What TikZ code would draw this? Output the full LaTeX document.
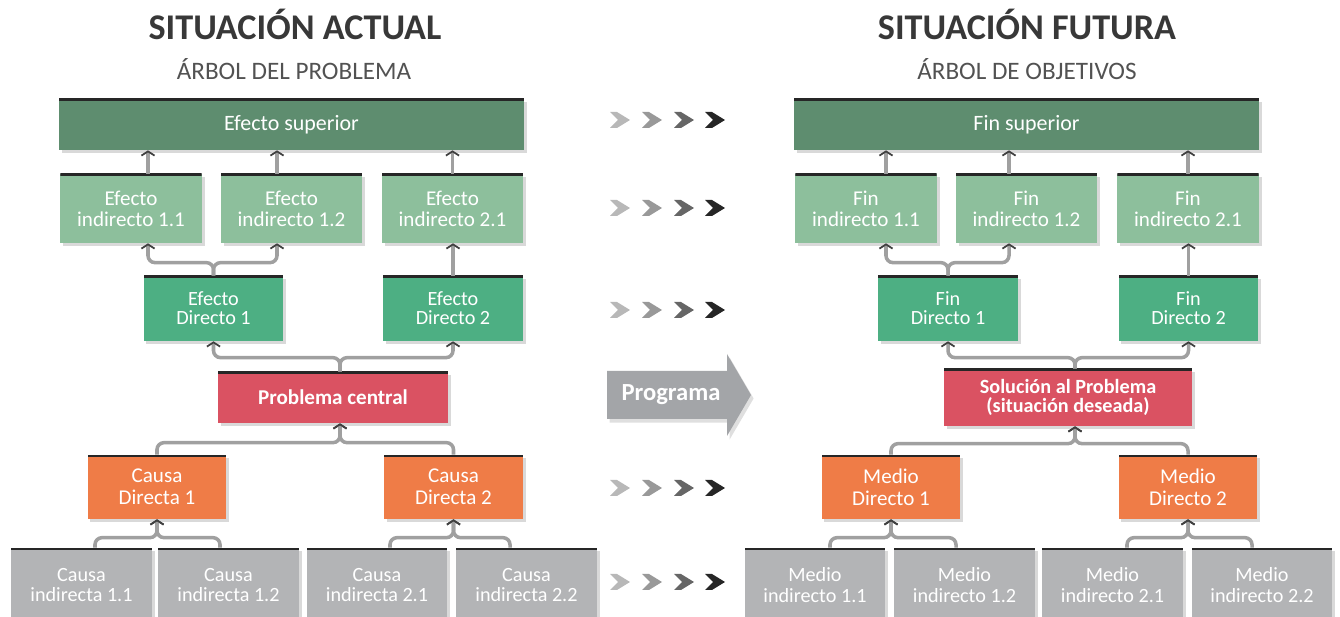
\documentclass[tikz,border=0pt]{standalone}
\usepackage{fontspec}
\setmainfont{Carlito}
\usetikzlibrary{calc,shadows,backgrounds,arrows.meta}
\definecolor{supgreen}{HTML}{5E8D6F}
\definecolor{indgreen}{HTML}{8DBF9C}
\definecolor{dirgreen}{HTML}{4DAF83}
\definecolor{corered}{HTML}{DA5262}
\definecolor{causeorange}{HTML}{EF7C47}
\definecolor{rootgray}{HTML}{B3B4B6}
\definecolor{proggray}{HTML}{A3A5A8}
\definecolor{conngray}{HTML}{A0A0A0}
\tikzset{box/.style={text=white,align=center,inner sep=1pt,
           drop shadow={shadow xshift=1.6pt,shadow yshift=-1.6pt,opacity=0.3},
           path picture={\draw[line width=2.2pt,black!85] (path picture bounding box.north west) -- (path picture bounding box.north east);}},
         sup/.style={box,fill=supgreen,minimum width=9.3cm,minimum height=1.02cm,font=\fontsize{12.5}{13}\selectfont},
         ind/.style={box,fill=indgreen,minimum width=2.83cm,minimum height=1.38cm,font=\fontsize{12}{12}\selectfont},
         dir/.style={box,fill=dirgreen,minimum width=2.8cm,minimum height=1.3cm,font=\fontsize{11.5}{10.8}\selectfont},
         core/.style={box,fill=corered,minimum width=4.6cm,minimum height=1.02cm,font=\fontsize{12}{11}\selectfont\bfseries},
         cause/.style={box,fill=causeorange,minimum width=2.78cm,minimum height=1.28cm,font=\fontsize{12}{12.3}\selectfont},
         root/.style={box,fill=rootgray,minimum width=2.82cm,minimum height=1.48cm,font=\fontsize{11.5}{11.8}\selectfont},
         title/.style={anchor=base,text=black!78,font=\fontsize{20.6}{22}\selectfont\bfseries},
         subtitle/.style={anchor=base,text=black!68,font=\fontsize{14.3}{15}\selectfont},
         line/.style={draw=conngray,line width=2pt,rounded corners=4pt,
           -{Straight Barb[length=2.4pt,width=7.5pt,line width=1pt,color=black!75]}}
}

\begin{document}
\begin{tikzpicture}[x=0.02cm,y=-0.02cm]
  \useasboundingbox (0,0) rectangle (1340,617);
  % titles
  \node[title] (tact) at (295,40) {SITUACIÓN ACTUAL};
  \node[subtitle] (aprob) at (294,80) {ÁRBOL DEL PROBLEMA};
  \node[title] (tfut) at (1027,40) {SITUACIÓN FUTURA};
  \node[subtitle] (aobj) at (1027,80) {ÁRBOL DE OBJETIVOS};

  % arbol del problema
  \node[sup] (esup) at (291.5,124.5) {Efecto superior};
  \node[ind] (ei11) at (131,208.5) {Efecto\\indirecto 1.1};
  \node[ind] (ei12) at (291.5,208.5) {Efecto\\indirecto 1.2};
  \node[ind] (ei21) at (452.5,208.5) {Efecto\\indirecto 2.1};
  \node[dir] (ed1) at (213.5,308.5) {Efecto\\Directo 1};
  \node[dir] (ed2) at (453,308.5) {Efecto\\Directo 2};
  \node[core] (prob) at (333,397.5) {Problema central};
  \node[cause] (cd1) at (157,487) {Causa\\Directa 1};
  \node[cause] (cd2) at (453.5,487) {Causa\\Directa 2};
  \node[root] (ci11) at (81.5,585) {Causa\\indirecta 1.1};
  \node[root] (ci12) at (228.5,585) {Causa\\indirecta 1.2};
  \node[root] (ci21) at (377,585) {Causa\\indirecta 2.1};
  \node[root] (ci22) at (526.5,585) {Causa\\indirecta 2.2};

  % arbol de objetivos
  \node[sup] (fsup) at (1026.5,124.5) {Fin superior};
  \node[ind] (fi11) at (866,208.5) {Fin\\indirecto 1.1};
  \node[ind] (fi12) at (1026.5,208.5) {Fin\\indirecto 1.2};
  \node[ind] (fi21) at (1188,208.5) {Fin\\indirecto 2.1};
  \node[dir] (fd1) at (948,308.5) {Fin\\Directo 1};
  \node[dir] (fd2) at (1188.5,308.5) {Fin\\Directo 2};
  \node[core,minimum width=4.96cm,minimum height=1.14cm,font=\fontsize{11.5}{11}\selectfont\bfseries] (sol) at (1068,397.5) {Solución al Problema\\(situación deseada)};
  \node[cause] (md1) at (891,487) {Medio\\Directo 1};
  \node[cause] (md2) at (1188,487) {Medio\\Directo 2};
  \node[root] (mi11) at (815,585) {Medio\\indirecto 1.1};
  \node[root] (mi12) at (964.5,585) {Medio\\indirecto 1.2};
  \node[root] (mi21) at (1112.5,585) {Medio\\indirecto 2.1};
  \node[root] (mi22) at (1262,585) {Medio\\indirecto 2.2};

  % flechas del centro
  \foreach \row in {120,208,310,488,582}{
    \foreach \col/\shade in {620/28,652/40,684/60,715/85}{
      \fill[black!\shade] (\col-10,\row-8) -- (\col-3,\row-8) -- (\col+10,\row) -- (\col-3,\row+8) -- (\col-10,\row+8) -- (\col-2,\row) -- cycle;
    }
  }
  \fill[proggray,drop shadow={shadow xshift=1.5pt,shadow yshift=-2pt,opacity=0.25}] (607,371) -- (727,371) -- (727,354) -- (751,395) -- (727,436) -- (727,419) -- (607,419) -- cycle;
  \node[text=white,font=\fontsize{14}{14}\selectfont\bfseries] (prog) at (671,395) {Programa};

  % conectores problema
  \draw[line] ([xshift=0.34cm]ei11.north) -- ([xshift=0.34cm]ei11.north |- esup.south);
  \draw[line] ([xshift=-0.29cm]ei12.north) -- ([xshift=-0.29cm]ei12.north |- esup.south);
  \draw[line] (ei21.north) -- (ei21.north |- esup.south);
  \draw[line] (ed1.north) -- ++(0,-13) -| ([xshift=0.34cm]ei11.south);
  \draw[line] (ed1.north) -- ++(0,-13) -| ([xshift=-0.29cm]ei12.south);
  \draw[line] (ed2.north) -- (ed2.north |- ei21.south);
  \draw[line] ([xshift=0.14cm]prob.north) -- ++(0,-14) -| (ed1.south);
  \draw[line] ([xshift=0.14cm]prob.north) -- ++(0,-14) -| (ed2.south);
  \draw[line] (cd1.north) -- ++(0,-12) -| ([xshift=0.14cm]prob.south);
  \draw[line] (cd2.north) -- ++(0,-12) -| ([xshift=0.14cm]prob.south);
  \draw[line] ([xshift=0.27cm]ci11.north) -- ++(0,-10) -| (cd1.south);
  \draw[line] ([xshift=-0.17cm]ci12.north) -- ++(0,-10) -| (cd1.south);
  \draw[line] ([xshift=0.26cm]ci21.north) -- ++(0,-10) -| (cd2.south);
  \draw[line] ([xshift=-0.33cm]ci22.north) -- ++(0,-10) -| (cd2.south);

  % conectores objetivos
  \draw[line] ([xshift=0.4cm]fi11.north) -- ([xshift=0.4cm]fi11.north |- fsup.south);
  \draw[line] ([xshift=-0.35cm]fi12.north) -- ([xshift=-0.35cm]fi12.north |- fsup.south);
  \draw[line] (fi21.north) -- (fi21.north |- fsup.south);
  \draw[line] (fd1.north) -- ++(0,-13) -| ([xshift=0.4cm]fi11.south);
  \draw[line] (fd1.north) -- ++(0,-13) -| ([xshift=-0.35cm]fi12.south);
  \draw[line] (fd2.north) -- (fd2.north |- fi21.south);
  \draw[line] ([xshift=0.14cm]sol.north) -- ++(0,-11) -| (fd1.south);
  \draw[line] ([xshift=0.14cm]sol.north) -- ++(0,-11) -| (fd2.south);
  \draw[line] (md1.north) -- ++(0,-11) -| ([xshift=0.14cm]sol.south);
  \draw[line] (md2.north) -- ++(0,-11) -| ([xshift=0.14cm]sol.south);
  \draw[line] ([xshift=0.3cm]mi11.north) -- ++(0,-10) -| (md1.south);
  \draw[line] ([xshift=-0.17cm]mi12.north) -- ++(0,-10) -| (md1.south);
  \draw[line] ([xshift=0.29cm]mi21.north) -- ++(0,-10) -| (md2.south);
  \draw[line] ([xshift=-0.2cm]mi22.north) -- ++(0,-10) -| (md2.south);
\end{tikzpicture}
\end{document}
